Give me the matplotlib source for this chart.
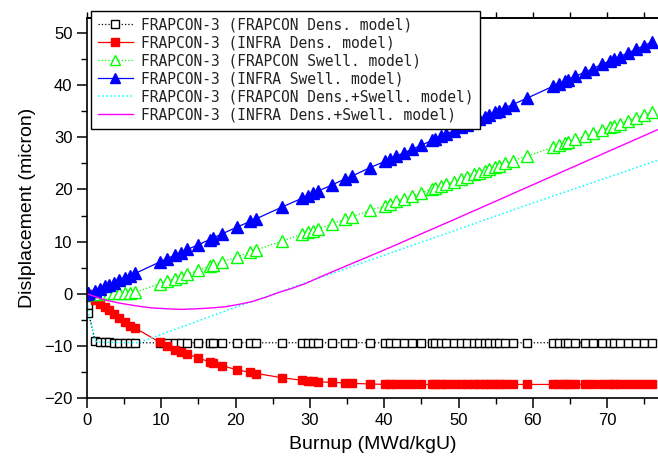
import numpy as np
import matplotlib
matplotlib.use("Agg")
import matplotlib.pyplot as plt

# ---------------- data ----------------
burnup = [0, 0.1, 0.2, 1.1, 1.8, 2.4, 2.9, 3.6, 4.3, 5.1, 5.8, 6.5, 9.8, 10.7, 11.8,
          12.6, 13.5, 15.0, 16.5, 17.0, 18.2, 20.2, 22.0, 22.8, 26.2, 28.9, 29.7,
          30.4, 31.1, 33.0, 34.7, 35.7, 38.1, 40.1, 40.8, 41.6, 42.6, 43.7, 45.0,
          46.4, 46.9, 47.6, 48.3, 49.4, 50.3, 51.1, 52.1, 52.8, 53.5, 54.1, 54.9,
          55.4, 56.3, 57.3, 59.2, 62.7, 63.5, 64.4, 64.8, 65.7, 67.0, 68.1, 69.3,
          70.4, 70.9, 71.7, 72.8, 73.9, 75.0, 76.0]

frapcon_dens = [0, -2.1, -3.7, -9.1, -9.3, -9.3, -9.3, -9.4, -9.4, -9.4, -9.4, -9.4,
                -9.4, -9.4, -9.4, -9.4, -9.4, -9.4, -9.4, -9.4, -9.4, -9.4, -9.4,
                -9.4, -9.4, -9.4, -9.4, -9.4, -9.4, -9.4, -9.4, -9.4, -9.4, -9.4,
                -9.4, -9.4, -9.4, -9.4, -9.4, -9.4, -9.4, -9.4, -9.4, -9.4, -9.4,
                -9.4, -9.4, -9.4, -9.4, -9.4, -9.4, -9.4, -9.4, -9.4, -9.4, -9.4,
                -9.4, -9.4, -9.4, -9.4, -9.4, -9.4, -9.4, -9.4, -9.4, -9.4, -9.4,
                -9.4, -9.4, -9.4]

infra_dens = [0, -0.1, -0.2, -1.2, -1.9, -2.6, -3.2, -3.9, -4.7, -5.5, -6.1, -6.6,
              -9.3, -10.0, -10.7, -11.1, -11.6, -12.3, -13.1, -13.3, -13.8, -14.6,
              -15.1, -15.3, -16.1, -16.6, -16.7, -16.8, -16.9, -17.0, -17.1, -17.2,
              -17.3, -17.4, -17.4, -17.4, -17.4, -17.4, -17.4, -17.4, -17.4, -17.4,
              -17.4, -17.4, -17.4, -17.4, -17.4, -17.4, -17.4, -17.4, -17.4, -17.4,
              -17.4, -17.4, -17.4, -17.4, -17.4, -17.4, -17.4, -17.4, -17.4, -17.4,
              -17.4, -17.4, -17.4, -17.4, -17.4, -17.4, -17.4, -17.4]

frapcon_swell = [0, 0, 0, 0.0, 0.0, 0.1, 0.1, 0.1, 0.2, 0.2, 0.2, 0.3, 1.9, 2.4, 2.9,
                 3.3, 3.8, 4.5, 5.3, 5.5, 6.1, 7.1, 8.0, 8.4, 10.1, 11.4, 11.8, 12.1,
                 12.5, 13.4, 14.3, 14.8, 16.0, 16.9, 17.3, 17.7, 18.2, 18.7, 19.4,
                 20.1, 20.3, 20.7, 21.0, 21.5, 22.0, 22.4, 22.9, 23.2, 23.6, 23.9,
                 24.3, 24.5, 25.0, 25.5, 26.4, 28.1, 28.5, 29.0, 29.2, 29.6, 30.3,
                 30.8, 31.4, 32.0, 32.2, 32.6, 33.2, 33.7, 34.3, 34.8]

infra_swell = [0, 0.1, 0.1, 0.6, 1.0, 1.4, 1.7, 2.1, 2.6, 3.1, 3.5, 3.9, 6.1, 6.7,
               7.4, 7.9, 8.5, 9.4, 10.4, 10.7, 11.5, 12.8, 13.9, 14.4, 16.6, 18.3,
               18.8, 19.3, 19.7, 20.9, 22.0, 22.6, 24.2, 25.4, 25.9, 26.4, 27.0,
               27.7, 28.5, 29.4, 29.7, 30.2, 30.6, 31.3, 31.9, 32.4, 33.0, 33.5,
               33.9, 34.3, 34.8, 35.1, 35.7, 36.3, 37.5, 39.8, 40.3, 40.8, 41.1,
               41.7, 42.5, 43.2, 44.0, 44.7, 45.0, 45.5, 46.2, 46.9, 47.6, 48.3]

frapcon_sum_x = [0, 0.1, 0.2, 1.1, 1.8, 6.9, 20, 40, 60, 77]
frapcon_sum_y = [0, -2.1, -3.7, -9.1, -9.3, -9.4, -2.6, 7.4, 17.4, 25.7]

infra_sum_x = [0, 1.2, 2.4, 4.4, 6.5, 8.6, 10.9, 12.7, 14.5, 16.5, 18.6, 20.4, 22.2,
               24.0, 25.7, 27.5, 29.3, 32, 35, 40, 50, 60, 70, 77]
infra_sum_y = [0, -0.6, -1.2, -1.8, -2.3, -2.7, -2.9, -3.0, -2.9, -2.75, -2.5, -2.05,
               -1.5, -0.7, 0.2, 1.0, 1.9, 3.6, 5.4, 8.4, 14.6, 20.9, 27.2, 31.6]

labels = ["FRAPCON-3 (FRAPCON Dens. model)",
          "FRAPCON-3 (INFRA Dens. model)",
          "FRAPCON-3 (FRAPCON Swell. model)",
          "FRAPCON-3 (INFRA Swell. model)",
          "FRAPCON-3 (FRAPCON Dens.+Swell. model)",
          "FRAPCON-3 (INFRA Dens.+Swell. model)"]

# ---------------- figure ----------------
W, H = 658, 463
fig = plt.figure(figsize=(W / 100, H / 100), dpi=100)
ax = fig.add_axes([87 / W, 1 - 398 / H, (W - 87) / W, (398 - 18) / H])

lw = 0.9
ax.plot(burnup, frapcon_dens, color='black', ls=':', lw=lw, marker='s', ms=6,
        mfc='white', mec='black', mew=1.0, label=labels[0])
ax.plot(burnup, infra_dens, color='red', ls='-', lw=lw, marker='s', ms=6,
        mfc='red', mec='red', label=labels[1])
ax.plot(burnup, frapcon_swell, color='#00ff00', ls=':', lw=lw, marker='^', ms=8,
        mfc='white', mec='#00ff00', mew=1.0, label=labels[2])
ax.plot(burnup, infra_swell, color='blue', ls='-', lw=lw, marker='^', ms=8,
        mfc='blue', mec='blue', label=labels[3])
ax.plot(frapcon_sum_x, frapcon_sum_y, color='cyan', ls=':', lw=1.1, label=labels[4])
ax.plot(infra_sum_x, infra_sum_y, color='magenta', ls='-', lw=1.0, label=labels[5])

ax.set_xlim(0, 76.85)
ax.set_ylim(-20, 52.9)
ax.set_xticks(np.arange(0, 80, 10))
ax.set_xticks(np.arange(0, 80, 5), minor=True)
ax.set_yticks(np.arange(-20, 51, 10))
ax.set_yticks(np.arange(-20, 53, 5), minor=True)
ax.spines['right'].set_visible(False)
for s in ['left', 'bottom', 'top']:
    ax.spines[s].set_linewidth(1.2)

tickfont = 'Liberation Sans'
ax.tick_params(which='major', direction='out', length=7, width=1.1, labelsize=12)
ax.tick_params(which='minor', direction='out', length=4, width=1.0)
for lab in ax.get_xticklabels() + ax.get_yticklabels():
    lab.set_fontfamily(tickfont)

sec = ax.secondary_xaxis('top')
sec.set_xticks(np.arange(0, 80, 5))
sec.tick_params(direction='out', length=4, width=1.0, labeltop=False)
sec.spines['top'].set_linewidth(1.2)

ax.set_xlabel("Burnup (MWd/kgU)", fontsize=14, family=tickfont, labelpad=6)
ax.set_ylabel("Dislplacement (micron)", fontsize=14, family=tickfont, labelpad=6)

leg = ax.legend(loc='upper left', bbox_to_anchor=(91 / W, 1 - 11 / H),
                bbox_transform=fig.transFigure, prop={'family': 'DejaVu Sans Mono', 'size': 10.5},
                frameon=True, fancybox=False, edgecolor='black', framealpha=1,
                numpoints=1, handlelength=2.4, handletextpad=0.6, labelspacing=0.2,
                borderpad=0.45, borderaxespad=0)
leg.get_frame().set_linewidth(1.0)
for t in leg.get_texts():
    t.set_color('#222222')
for h in leg.legend_handles:
    try:
        if h.get_marker() == '^':
            h.set_markersize(7)
        elif h.get_marker() == 's':
            h.set_markersize(5.5)
    except Exception:
        pass

fig.savefig("out.png", dpi=100)
